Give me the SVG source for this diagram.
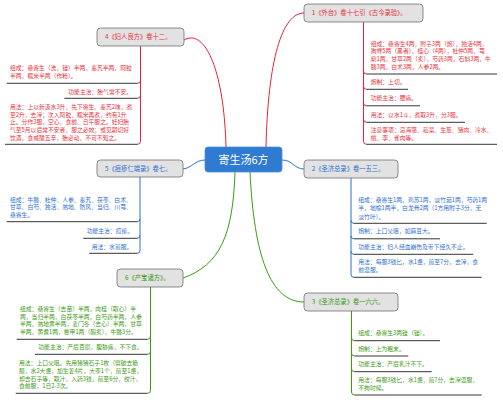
<svg xmlns="http://www.w3.org/2000/svg" width="503" height="400" viewBox="0 0 503 400">
<style>
text{font-family:"Noto Sans CJK SC","Noto Sans",sans-serif}
.nb{fill:#e2e2e2;stroke:#6e6e6e;stroke-width:0.8}
.nl{font-size:6.3px}
.lf{font-size:5.8px}
.r{fill:#e5323e}.b{fill:#2d6fd0}.g{fill:#3b9a12}
.cr{stroke:#e8203a;fill:none;stroke-width:1}
.cb{stroke:#2a6fd8;fill:none;stroke-width:1}
.cg{stroke:#3b9a0f;fill:none;stroke-width:1}
.ul{stroke:#1e1e1e;stroke-width:0.9;fill:none}
</style>
<rect width="503" height="400" fill="#ffffff"/>
<g id="connectors">
<path class="cr" stroke-width="1.3" d="M266,147 C268,60 282,13 304,13"/>
<path class="cr" stroke-width="1.3" d="M226,147 C224,70 205,28 184,40"/>
<path class="cb" stroke-width="1.3" d="M205,160 C195,160 192,168 183,169"/>
<path class="cb" stroke-width="1.3" d="M282,160 C293,160 294,169 304,169"/>
<path class="cg" stroke-width="1.3" d="M235,172 C233,235 220,265 183,278"/>
<path class="cg" stroke-width="1.3" d="M250,172 C254,255 270,302 304,302"/>
<path class="cr" d="M363.5,22 V141.3 Q363.5,144.3 366.5,144.3 M363.5,71 Q363.5,74 366.5,74 M363.5,86.3 Q363.5,89.3 366.5,89.3 M363.5,102.8 Q363.5,105.8 366.5,105.8 M363.5,119.3 Q363.5,122.3 366.5,122.3"/>
<path class="cr" d="M140.5,46 V141.3 Q140.5,144.3 137.5,144.3 M140.5,80.3 Q140.5,83.3 137.5,83.3 M140.5,95.3 Q140.5,98.3 137.5,98.3"/>
<path class="cb" d="M140,177 V250.3 Q140,253.3 137,253.3 M140,218.7 Q140,221.7 137,221.7 M140,235.3 Q140,238.3 137,238.3"/>
<path class="cg" d="M150.5,287 V390.3 Q150.5,393.3 147.5,393.3 M150.5,336.3 Q150.5,339.3 147.5,339.3 M150.5,351.3 Q150.5,354.3 147.5,354.3"/>
<path class="cb" d="M351,178 V274.3 Q351,277.3 354,277.3 M351,220.3 Q351,223.3 354,223.3 M351,235.8 Q351,238.8 354,238.8 M351,251.3 Q351,254.3 354,254.3"/>
<path class="cg" d="M351.5,311 V392 Q351.5,395 354.5,395 M351.5,337.7 Q351.5,340.7 354.5,340.7 M351.5,353 Q351.5,356 354.5,356 M351.5,368.7 Q351.5,371.7 354.5,371.7"/>
<path class="ul" d="M366.5,74 H497 M366.5,89.3 H408 M366.5,105.8 H420 M366.5,122.3 H465 M366.5,144.3 H497"/>
<path class="ul" d="M6.7,83.3 H137.5 M64.3,98.3 H137.5 M5,144.3 H137.5"/>
<path class="ul" d="M6.7,221.7 H137 M83.3,238.3 H137 M89.3,253.3 H137"/>
<path class="ul" d="M16.7,339.3 H147.5 M35,354.3 H147.5 M15.7,393.3 H147.5"/>
<path class="ul" d="M354,223.3 H486.7 M354,238.8 H440 M354,254.3 H473.3 M354,277.3 H481.7"/>
<path class="ul" d="M354.5,340.7 H440 M354.5,356 H408.3 M354.5,371.7 H431.7 M354.5,395 H481.7"/>
</g>
<g id="center">
<rect x="205" y="147" width="77" height="25" rx="3" fill="#2f7bd2" stroke="#4a8fdc" stroke-width="0.8"/>
<text x="243.5" y="164" font-size="11" fill="#ffffff" text-anchor="middle">寄生汤6方</text>
</g>
<g id="node1">
<rect class="nb" x="304" y="4" width="119" height="18" rx="3.5"/>
<text class="nl r" x="311.7" y="15.3">1《外台》卷十七引《古今录验》。</text>
<text class="lf r" x="370.7"><tspan x="370.7" y="45.5">组成：桑寄生4两，附子3两（炮），独活4两，</tspan><tspan x="370.7" y="53.2">狗脊5两（黑者），桂心（4两），杜仲5两，芎</tspan><tspan x="370.7" y="60.9">藭1两，甘草2两（炙），芍药3两，石斛3两，牛</tspan><tspan x="370.7" y="68.6">膝3两，白术3两，人参2两。</tspan></text>
<text class="lf r" x="370.7" y="83.8">炮制：上切。</text>
<text class="lf r" x="370.7" y="99.6">功能主治：腰痛。</text>
<text class="lf r" x="370.7" y="117">用法：以水1斗，煮取3升，分3服。</text>
<text class="lf r" x="370.7"><tspan x="370.7" y="132.4">注意事项：忌海藻、菘菜、生葱、猪肉、冷水、</tspan><tspan x="370.7" y="140">桃、李、雀肉等。</tspan></text>
</g>
<g id="node4">
<rect class="nb" x="97" y="28" width="87" height="18" rx="3.5"/>
<text class="nl r" x="105" y="39.3">4《妇人良方》卷十二。</text>
<text class="lf r"><tspan x="10" y="69.8">组成：桑寄生（洗，锉）半两，秦艽半两，阿胶</tspan><tspan x="10" y="77.5">半两，糯米半两（作粉）。</tspan></text>
<text class="lf r" x="68.3" y="94.3">功能主治：胎气常不安。</text>
<text class="lf r"><tspan x="10" y="109.2">用法：上以新汲水3升，先下寄生、秦艽2味，煮</tspan><tspan x="10" y="116.8">至2升，去滓；次入阿胶、糯米再煮，约有1升</tspan><tspan x="10" y="124.4">止。分作3服，空心、食前、日午服之。妊妇胎</tspan><tspan x="10" y="132">气至5月以后常不安者，服之必效；或见嗣切好</tspan><tspan x="10" y="139.6">饮酒，食咸酸五辛，胎必动，不可不知之。</tspan></text>
</g>
<g id="node5">
<rect class="nb" x="97" y="160" width="86" height="17" rx="3.5"/>
<text class="nl b" x="105" y="170.8">5《痘疹仁端录》卷七。</text>
<text class="lf b"><tspan x="10" y="201.8">组成：牛膝、杜仲、人参、秦艽、茯苓、白术、</tspan><tspan x="10" y="209.4">甘草、白芍、独活、熟地、防风、当归、川芎、</tspan><tspan x="10" y="217">桑寄生。</tspan></text>
<text class="lf b" x="86.7" y="232.7">功能主治：痘疹。</text>
<text class="lf b" x="91.7" y="249.3">用法：水煎服。</text>
</g>
<g id="node6">
<rect class="nb" x="117" y="269" width="66" height="18" rx="3.5"/>
<text class="nl g" x="125" y="280.3">6《产宝诸方》。</text>
<text class="lf g"><tspan x="20" y="311.3">组成：桑寄生（去苗）半两，肉桂（取心）半</tspan><tspan x="20" y="318.8">两，当归半两，白茯苓半两，白芍药半两，人参</tspan><tspan x="20" y="326.3">半两，熟地黄半两，麦门冬（去心）半两，甘草</tspan><tspan x="20" y="333.8">半两，黄耆1两，鳖甲1两（醋炙），牛膝3分。</tspan></text>
<text class="lf g" x="38.3" y="348.7">功能主治：产后百损，腹胁痛，不下食。</text>
<text class="lf g"><tspan x="19" y="365.3">用法：上口父咀。先用猪猪石子1枚（劈破去筋</tspan><tspan x="19" y="373">膜，水2大盏，加生姜4片，大枣1个，煎至1盏，</tspan><tspan x="19" y="380.7">却去石子等，取汁，入药3钱，煎至6分，绞汁，</tspan><tspan x="19" y="388.4">食前服，1日2-3次。</tspan></text>
</g>
<g id="node2">
<rect class="nb" x="304" y="160" width="94" height="18" rx="3.5"/>
<text class="nl b" x="311.7" y="171.3">2《圣济总录》卷一五三。</text>
<text class="lf b"><tspan x="358.3" y="202">组成：桑寄生1两，鸡苏1两，淡竹茹1两，芍药1两</tspan><tspan x="358.3" y="210.3">半，地榆1两半，白龙骨2两（1方用附子3分，无</tspan><tspan x="358.3" y="218.7">淡竹叶）。</tspan></text>
<text class="lf b" x="358.3" y="233.3">炮制：上口父咀，如麻豆大。</text>
<text class="lf b" x="358.3" y="248.8">功能主治：妇人经血崩伤及带下经久不止。</text>
<text class="lf b"><tspan x="358.3" y="264.3">用法：每服3钱匕，水1盏，煎至7分，去滓，食</tspan><tspan x="358.3" y="271.8">前温服。</tspan></text>
</g>
<g id="node3">
<rect class="nb" x="304" y="293" width="94" height="18" rx="3.5"/>
<text class="nl g" x="311.7" y="304.3">3《圣济总录》卷一六六。</text>
<text class="lf g" x="358.3" y="335.3">组成：桑寄生3两锉（锉）。</text>
<text class="lf g" x="358.3" y="351.3">炮制：上为粗末。</text>
<text class="lf g" x="358.3" y="366">功能主治：产后乳汁不下。</text>
<text class="lf g"><tspan x="358.3" y="382">用法：每服3钱匕，水1盏，煎7分，去滓温服，</tspan><tspan x="358.3" y="390">不拘时候。</tspan></text>
</g>
</svg>
